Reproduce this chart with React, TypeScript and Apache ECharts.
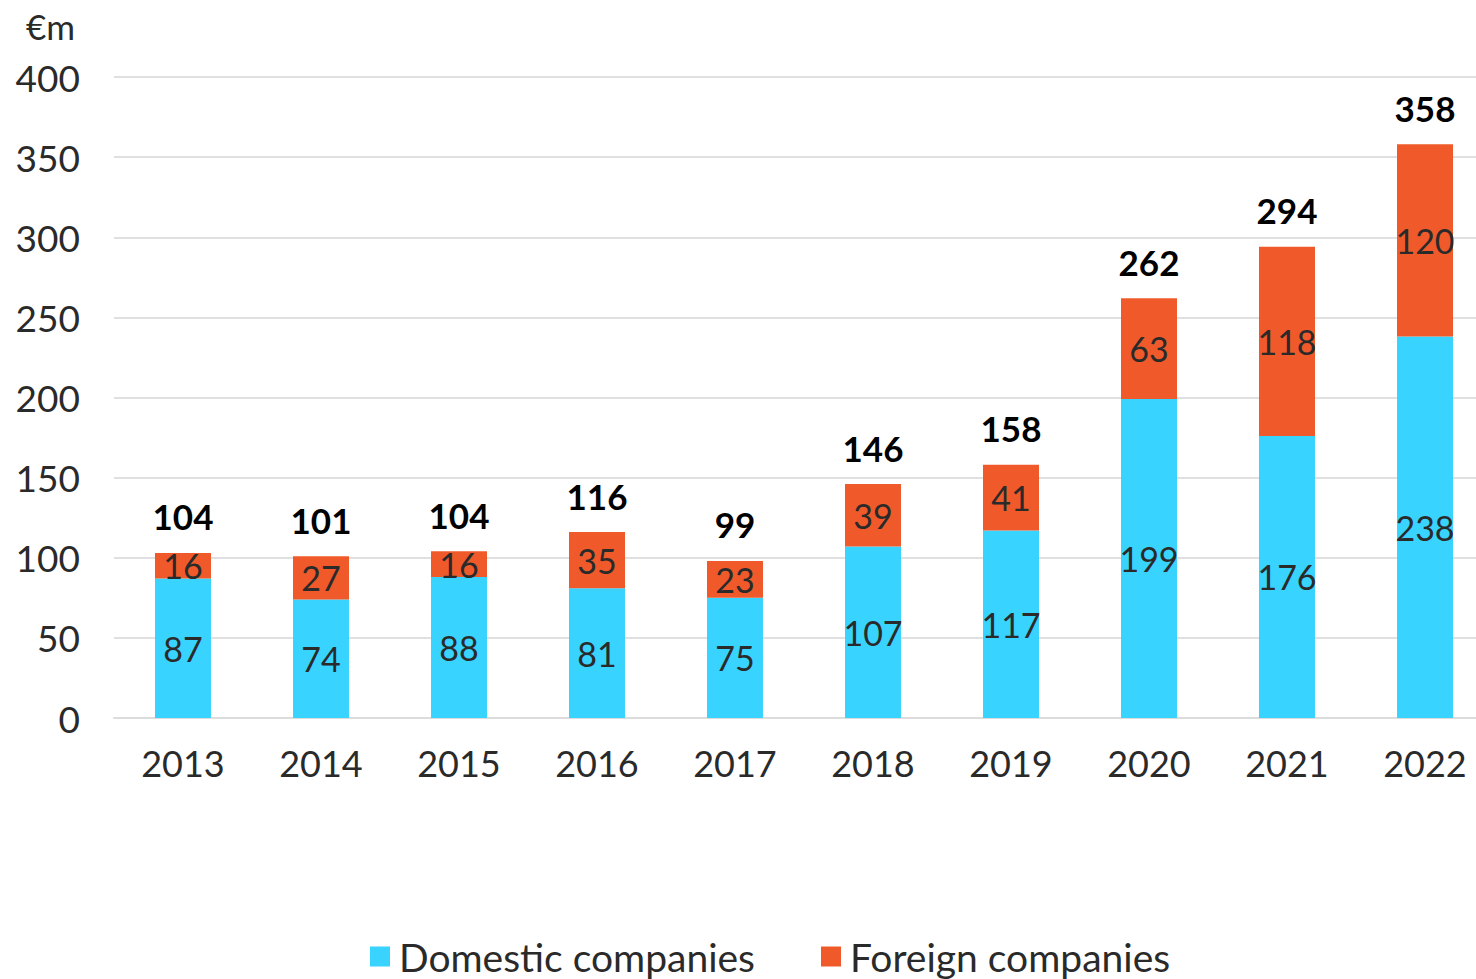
import React, { useEffect, useRef } from "react";
import * as echarts from "echarts";

const years = ["2013", "2014", "2015", "2016", "2017", "2018", "2019", "2020", "2021", "2022"];
const domestic = [87, 74, 88, 81, 75, 107, 117, 199, 176, 238];
const foreign = [16, 27, 16, 35, 23, 39, 41, 63, 118, 120];
const totals = [104, 101, 104, 116, 99, 146, 158, 262, 294, 358];
const zeros = [0, 0, 0, 0, 0, 0, 0, 0, 0, 0];

const FONT = "Lato, 'Noto Sans', sans-serif";
const TEXT = "#2a2a2a";

export default function App() {
  const ref = useRef<HTMLDivElement>(null);
  useEffect(() => {
    const chart = echarts.init(ref.current!, null, { renderer: "svg" });
    chart.setOption({
      animation: false,
      backgroundColor: "#ffffff",
      textStyle: { fontFamily: FONT },
      title: {
        text: "€m",
        left: 21,
        top: 3,
        textStyle: { fontFamily: FONT, fontSize: 35, fontWeight: "normal", color: TEXT },
      },
      grid: { left: 114, right: 0, top: 77, bottom: 261, containLabel: false },
      legend: {
        data: ["Domestic companies", "Foreign companies"],
        left: 365,
        top: 932,
        icon: "rect",
        itemWidth: 20,
        itemHeight: 20,
        itemGap: 66,
        textStyle: { fontFamily: FONT, fontSize: 39, color: TEXT, padding: [0, 0, 0, 4] },
      },
      xAxis: {
        type: "category",
        data: years,
        axisLine: { show: true, lineStyle: { color: "#dcdcdc", width: 2 } },
        axisTick: { show: false },
        axisLabel: { fontFamily: FONT, fontSize: 36, color: TEXT, margin: 27 },
      },
      yAxis: {
        type: "value",
        min: 0,
        max: 400,
        interval: 50,
        axisLine: { show: false },
        axisTick: { show: false },
        splitLine: { lineStyle: { color: "#e0e0e0", width: 2 } },
        axisLabel: { fontFamily: FONT, fontSize: 37, color: TEXT, margin: 34 },
      },
      series: [
        {
          name: "Domestic companies",
          type: "bar",
          stack: "a",
          barWidth: 56,
          data: domestic,
          itemStyle: { color: "#38D3FE" },
          label: { show: true, position: "inside", fontFamily: FONT, fontSize: 34, color: TEXT },
        },
        {
          name: "Foreign companies",
          type: "bar",
          stack: "a",
          barWidth: 56,
          data: foreign,
          itemStyle: { color: "#F05A2B" },
          label: { show: true, position: "inside", fontFamily: FONT, fontSize: 34, color: TEXT },
        },
        {
          name: "Total",
          type: "bar",
          stack: "a",
          barWidth: 56,
          data: zeros,
          itemStyle: { color: "transparent" },
          label: {
            show: true,
            position: "top",
            distance: 19,
            fontFamily: FONT,
            fontSize: 35,
            fontWeight: "bold",
            color: "#000",
            formatter: (p: any) => String(totals[p.dataIndex]),
          },
        },
      ],
    });
    return () => chart.dispose();
  }, []);
  return (
    <div style={{ position: "absolute", left: 0, top: 0, width: 1476, height: 979, overflow: "hidden" }}>
      <div ref={ref} style={{ position: "absolute", left: 0, top: 0, width: 1494, height: 979 }} />
    </div>
  );
}
